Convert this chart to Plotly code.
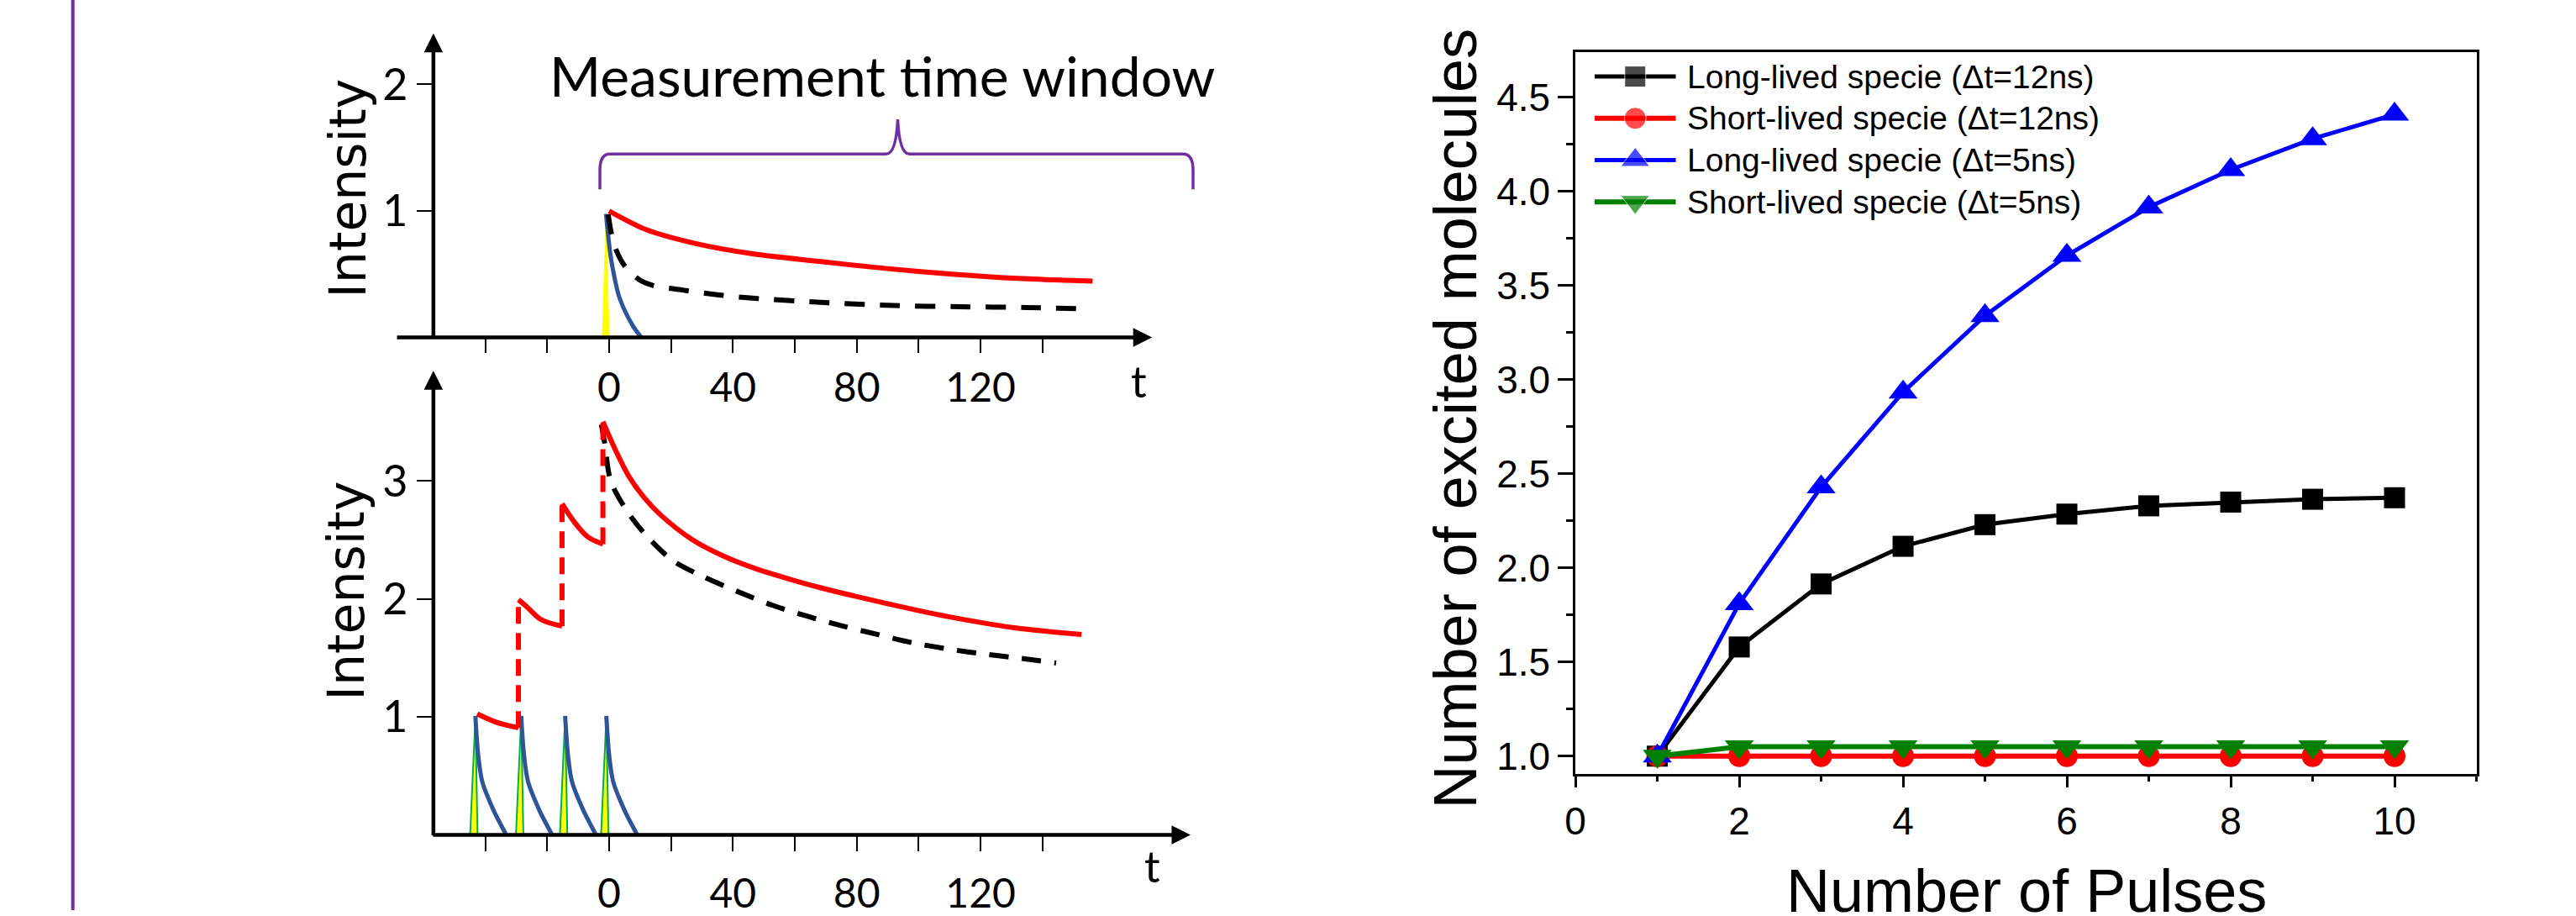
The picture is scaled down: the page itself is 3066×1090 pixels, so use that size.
import plotly.graph_objects as go

W, H = 3066, 1090

# ---------------- schematic panels: time (ns) vs intensity (a.u.) ----------------
tick_t = [-40, -20, 0, 20, 40, 60, 80, 100, 120, 140]
tick_t_text = ["", "", "0", "", "40", "", "80", "", "120", ""]

# single pulse (upper panel)
single_red_t = [0.0, 12.0, 28.0, 46.4, 67.8, 89.2, 110.8, 132.2, 156.2]
single_red_v = [0.999, 0.851, 0.741, 0.66, 0.60, 0.545, 0.50, 0.466, 0.444]
single_black_t = [-0.3, 0.76, 2.35, 5.0, 9.8, 14.1, 23.7, 35.5, 47.2, 70.8, 92.1, 113.5, 134.9, 155.7]
single_black_v = [0.972, 0.818, 0.686, 0.566, 0.455, 0.411, 0.374, 0.335, 0.308, 0.273, 0.251, 0.242, 0.236, 0.224]
single_blue_t = [-1.0, -0.2, 0.76, 3.4, 7.7, 10.4]
single_blue_v = [0.975, 0.78, 0.6, 0.31, 0.09, 0.0]
single_pulse_t = [-2.2, -1.0, 0.0]
single_pulse_v = [0.0, 0.95, 0.0]

# pulse train (lower panel)
train_pulse_t = [-43.2, -28.4, -14.2, -0.9]
pulse_decay_dt = [0.0, 0.9, 2.24, 5.86, 8.57, 10.0]
pulse_decay_v = [1.01, 0.68, 0.45, 0.21, 0.07, 0.0]
pulse_spike_dt = [-1.7, 0.0, 0.7]
pulse_spike_v = [0.0, 1.0, 0.0]
train_red_t = [
    [-42.6, -36.5, -29.3],
    [-29.3, -26.6, -22.1, -15.2],
    [-15.2, -11.3, -6.8, -2.0],
    [-2.0, 2.16, 6.3, 11.5, 16.6, 27.0, 37.3, 47.7, 58.0, 68.4, 78.7, 99.4, 109.7, 130.4, 152.6],
]
train_red_v = [
    [1.026, 0.956, 0.908],
    [1.994, 1.935, 1.828, 1.77],
    [2.808, 2.655, 2.525, 2.466],
    [3.504, 3.257, 3.044, 2.855, 2.714, 2.501, 2.36, 2.254, 2.171, 2.095, 2.029, 1.905, 1.85, 1.758, 1.699],
]
train_black_t = [-2.5, -1.46, 0.59, 6.3, 12.5, 20.7, 30.1, 41.5, 52.8, 64.2, 75.6, 86.9, 98.3, 109.7, 121.1, 132.5, 144.4]
train_black_v = [3.48, 3.327, 2.997, 2.726, 2.525, 2.324, 2.194, 2.064, 1.947, 1.853, 1.77, 1.699, 1.628, 1.576, 1.534, 1.499, 1.458]

# ---------------- accumulation vs number of pulses ----------------
pulses = [1, 2, 3, 4, 5, 6, 7, 8, 9, 10]
long_12 = [1.0, 1.58, 1.915, 2.115, 2.23, 2.286, 2.33, 2.35, 2.365, 2.373]
short_12 = [1.0, 1.0, 1.0, 1.0, 1.0, 1.0, 1.0, 1.0, 1.0, 1.0]
long_5 = [1.0, 1.81, 2.43, 2.934, 3.34, 3.66, 3.917, 4.116, 4.28, 4.41]
short_5 = [1.0, 1.05, 1.05, 1.05, 1.05, 1.05, 1.05, 1.05, 1.05, 1.05]
series_names = [
    "Long-lived specie (Δt=12ns)",
    "Short-lived specie (Δt=12ns)",
    "Long-lived specie (Δt=5ns)",
    "Short-lived specie (Δt=5ns)",
]
series_colors = ["#000000", "#FF0000", "#0000FF", "#008000"]
series_symbols = ["square", "circle", "triangle-up", "triangle-down"]
series_sizes = [25, 26, 30, 30]
series_widths = [5, 6, 5, 6]
y_ticks = [1.0, 1.5, 2.0, 2.5, 3.0, 3.5, 4.0, 4.5]
x_ticks = [0, 2, 4, 6, 8, 10]

# ---------------- page geometry helpers (pixels) ----------------
def fx(px):
    return px / W


def fy(py):
    return 1 - py / H


T0, TS = 715.0, 3.7            # t = 0 column and px per ns
TOP0, TOPS = 404.0, 151.5      # upper panel baseline and px per unit
BOT0, BOTS = 1000.0, 141.27    # lower panel baseline and px per unit


def tp(px):
    return (px - T0) / TS


def vtop(py):
    return (TOP0 - py) / TOPS


def vbot(py):
    return (BOT0 - py) / BOTS


NX0, NXS = 1870.0, 97.9        # right chart: x = 0 column, px per pulse
NY45, NYS = 116.7, 225.4       # right chart: y = 4.5 row, px per unit


def nx(px):
    return (px - NX0) / NXS


def ny(py):
    return 4.5 + (NY45 - py) / NYS


RED = "#FF0000"
BLUE_DECAY = "#2F5597"
YELLOW = "#FFFF00"
GREEN_EDGE = "#00B050"
PURPLE = "#7030A0"
LEFT_FONT = "Lato"
RIGHT_FONT = "Liberation Sans, Arial, sans-serif"
SMOOTH = dict(shape="spline", smoothing=0.9)

fig = go.Figure()

# ----- upper panel -----
fig.add_trace(go.Scatter(x=single_pulse_t, y=single_pulse_v, mode="lines", fill="toself",
                         fillcolor=YELLOW, line=dict(color=YELLOW, width=1),
                         xaxis="x", yaxis="y", showlegend=False, hoverinfo="skip"))
fig.add_trace(go.Scatter(x=single_blue_t, y=single_blue_v, mode="lines",
                         line=dict(color=BLUE_DECAY, width=5, **SMOOTH),
                         xaxis="x", yaxis="y", showlegend=False))
fig.add_trace(go.Scatter(x=single_black_t, y=single_black_v, mode="lines",
                         line=dict(color="black", width=6, dash="24px,18px", **SMOOTH),
                         xaxis="x", yaxis="y", showlegend=False))
fig.add_trace(go.Scatter(x=single_red_t, y=single_red_v, mode="lines",
                         line=dict(color=RED, width=6, **SMOOTH),
                         xaxis="x", yaxis="y", showlegend=False))

# ----- lower panel -----
for t_p in train_pulse_t:
    fig.add_trace(go.Scatter(x=[t_p + d for d in pulse_spike_dt], y=pulse_spike_v, mode="lines",
                             fill="toself", fillcolor=YELLOW, line=dict(color=GREEN_EDGE, width=2),
                             xaxis="x2", yaxis="y2", showlegend=False, hoverinfo="skip"))
for t_p in train_pulse_t:
    fig.add_trace(go.Scatter(x=[t_p + d for d in pulse_decay_dt], y=pulse_decay_v, mode="lines",
                             line=dict(color=BLUE_DECAY, width=5, **SMOOTH),
                             xaxis="x2", yaxis="y2", showlegend=False))
fig.add_trace(go.Scatter(x=train_black_t, y=train_black_v, mode="lines",
                         line=dict(color="black", width=6, dash="23px,16px", **SMOOTH),
                         xaxis="x2", yaxis="y2", showlegend=False))
for i in range(len(train_red_t) - 1):
    fig.add_trace(go.Scatter(x=[train_red_t[i][-1], train_red_t[i + 1][0]],
                             y=[train_red_v[i][-1], train_red_v[i + 1][0]], mode="lines",
                             line=dict(color=RED, width=6, dash="20px,11px"),
                             xaxis="x2", yaxis="y2", showlegend=False))
for seg_t, seg_v in zip(train_red_t, train_red_v):
    fig.add_trace(go.Scatter(x=seg_t, y=seg_v, mode="lines",
                             line=dict(color=RED, width=6, **SMOOTH),
                             xaxis="x2", yaxis="y2", showlegend=False))

# ----- right chart -----
all_series = [long_12, short_12, long_5, short_5]
for vals, name, col, sym, size, lw in zip(all_series, series_names, series_colors,
                                          series_symbols, series_sizes, series_widths):
    fig.add_trace(go.Scatter(x=pulses, y=vals, name=name, mode="lines+markers",
                             line=dict(color=col, width=lw),
                             marker=dict(symbol=sym, size=size, color=col),
                             xaxis="x3", yaxis="y3", showlegend=False, cliponaxis=False))

# key drawn inside the frame, top left
legend_rows_px = [91.7, 141.7, 191.7, 241.7]
for row_py, name, col, sym, size, lw in zip(legend_rows_px, series_names, series_colors,
                                            series_symbols, series_sizes, series_widths):
    yk = ny(row_py)
    fig.add_trace(go.Scatter(x=[nx(1893), nx(1941.5), nx(1990)], y=[yk, yk, yk],
                             mode="lines+markers", line=dict(color=col, width=lw),
                             marker=dict(symbol=sym, size=[0, size, 0], color=col),
                             xaxis="x3", yaxis="y3", showlegend=False, hoverinfo="skip"))

annotations = []
for row_py, name in zip(legend_rows_px, series_names):
    annotations.append(dict(x=fx(2001), y=fy(row_py), xref="paper", yref="paper", text=name,
                            showarrow=False, xanchor="left", yanchor="middle",
                            font=dict(family=RIGHT_FONT, size=39, color="black")))

# titles of the right chart
annotations.append(dict(x=fx(1726), y=fy(502), xref="paper", yref="paper",
                        text="Number of excited molecules", textangle=-90, showarrow=False,
                        xanchor="center", yanchor="middle",
                        font=dict(family=RIGHT_FONT, size=72, color="black")))
annotations.append(dict(x=fx(2409), y=fy(1067), xref="paper", yref="paper",
                        text="Number of Pulses", showarrow=False,
                        xanchor="center", yanchor="middle",
                        font=dict(family=RIGHT_FONT, size=72, color="black")))

# schematic labels
annotations.append(dict(x=fx(1041.5), y=fy(90), xref="paper", yref="paper",
                        text="Measurement time window", showarrow=False,
                        xanchor="center", yanchor="middle",
                        font=dict(family=LEFT_FONT, size=66, color="black")))
for (px, py) in [(1348, 456), (1364, 1037)]:
    annotations.append(dict(x=fx(px), y=fy(py), xref="paper", yref="paper", text="t",
                            showarrow=False, xanchor="center", yanchor="middle",
                            font=dict(family=LEFT_FONT, size=52, color="black")))
for (px, py) in [(402, 226), (401, 708)]:
    annotations.append(dict(x=fx(px), y=fy(py), xref="paper", yref="paper", text="Intensity",
                            textangle=-90, showarrow=False, xanchor="center", yanchor="middle",
                            font=dict(family="DejaVu Sans", size=60, color="black")))

# axis arrows of the two schematic panels
arrow_style = dict(text="", showarrow=True, arrowhead=2, arrowsize=1, arrowwidth=4.5,
                   arrowcolor="black", standoff=0, startstandoff=0)
annotations += [
    dict(xref="x", yref="y", axref="x", ayref="y", x=tp(1364), y=0, ax=tp(460), ay=0, **arrow_style),
    dict(xref="x", yref="y", axref="x", ayref="y", x=tp(505), y=vtop(40), ax=tp(505), ay=vtop(406), **arrow_style),
    dict(xref="x2", yref="y2", axref="x2", ayref="y2", x=tp(1410), y=0, ax=tp(503), ay=0, **arrow_style),
    dict(xref="x2", yref="y2", axref="x2", ayref="y2", x=tp(505), y=vbot(444), ax=tp(505), ay=vbot(1002), **arrow_style),
]

# curly bracket over the measurement window
brace_px = [
    ("M", 704, 226.7), ("L", 704, 204), ("Q", 704, 184.5, 716, 184.5), ("L", 1046, 184.5),
    ("Q", 1058, 184.5, 1060, 143), ("Q", 1062, 184.5, 1074, 184.5), ("L", 1401, 184.5),
    ("Q", 1413, 184.5, 1413, 204), ("L", 1413, 226.7),
]
parts = []
for cmd in brace_px:
    c, coords = cmd[0], cmd[1:]
    pts = []
    for k in range(0, len(coords), 2):
        pts.append(f"{tp(coords[k]):.3f},{vtop(coords[k + 1]):.4f}")
    parts.append(c + " " + " ".join(pts))
brace_path = " ".join(parts)

shapes = [
    dict(type="line", xref="paper", yref="paper", x0=fx(74), x1=fx(74), y0=0, y1=1,
         line=dict(color=PURPLE, width=4)),
    dict(type="path", xref="x", yref="y", path=brace_path, line=dict(color=PURPLE, width=3.5)),
]

x_left = dict(domain=[fx(430), fx(1450)], range=[tp(430), tp(1450)], anchor="free",
              showline=False, showgrid=False, zeroline=False, ticks="outside", ticklen=18,
              tickwidth=2, tickcolor="black", tickmode="array", tickvals=tick_t, ticktext=tick_t_text,
              tickfont=dict(family=LEFT_FONT, size=48, color="black"))
y_left = dict(anchor="free", position=fx(505), showline=False, showgrid=False, zeroline=False,
              ticks="outside", ticklen=20, tickwidth=2, tickcolor="black", tickmode="array",
              tickfont=dict(family=LEFT_FONT, size=52, color="black"))

frame = dict(showline=True, mirror=True, linecolor="black", linewidth=2.5, showgrid=False,
             zeroline=False, ticks="outside", tickwidth=2.5, tickcolor="black",
             tickfont=dict(family=RIGHT_FONT, size=46, color="black"))

fig.update_layout(
    width=W, height=H, margin=dict(l=0, r=0, t=0, b=0),
    paper_bgcolor="white", plot_bgcolor="rgba(0,0,0,0)", showlegend=False,
    xaxis=dict(x_left, position=fy(TOP0)),
    yaxis=dict(y_left, domain=[fy(425), fy(25)], range=[vtop(425), vtop(25)],
               tickvals=[1, 2], ticktext=["1", "2"]),
    xaxis2=dict(x_left, position=fy(BOT0), ticklabelstandoff=10),
    yaxis2=dict(y_left, domain=[fy(1025), fy(435)], range=[vbot(1025), vbot(435)],
                tickvals=[1, 2, 3], ticktext=["1", "2", "3"]),
    xaxis3=dict(frame, domain=[fx(1870), fx(2947)], range=[0, 11], anchor="y3",
                tickmode="array", tickvals=x_ticks, ticklen=14,
                minor=dict(tickvals=[1, 3, 5, 7, 9, 11], ticklen=7, tickwidth=2.5,
                           ticks="outside", tickcolor="black")),
    yaxis3=dict(frame, domain=[fy(926.7), fy(62.7)], range=[ny(926.7), ny(62.7)], anchor="x3",
                tickmode="array", tickvals=y_ticks, ticktext=[f"{v:.1f}" for v in y_ticks],
                ticklen=18,
                minor=dict(tickvals=[1.25, 1.75, 2.25, 2.75, 3.25, 3.75, 4.25], ticklen=8,
                           tickwidth=2.5, ticks="outside", tickcolor="black")),
    annotations=annotations,
    shapes=shapes,
)

fig.write_html("out.html")
